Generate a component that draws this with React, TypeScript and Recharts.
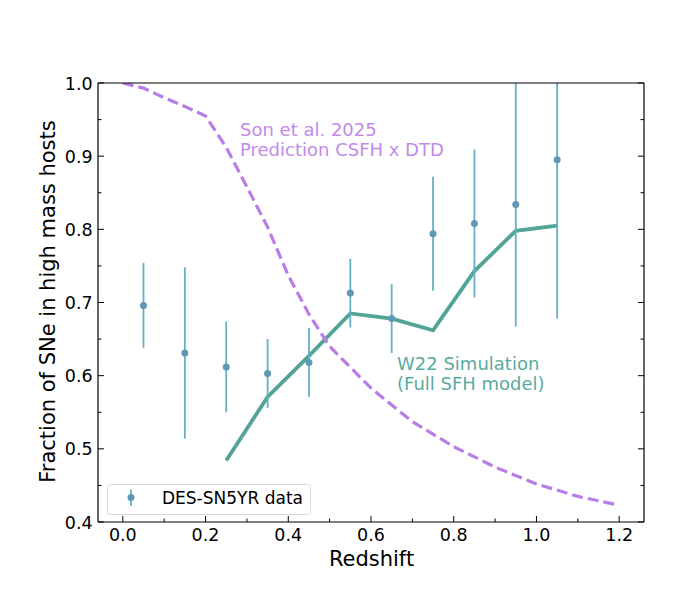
import React from 'react';
import { ComposedChart, Line, Scatter, ErrorBar, XAxis, YAxis, Legend } from 'recharts';

// DES-SN5YR binned data
const redshiftBins = [0.05, 0.15, 0.25, 0.35, 0.45, 0.55, 0.65, 0.75, 0.85, 0.95, 1.05];
const desFraction = [0.696, 0.631, 0.612, 0.603, 0.618, 0.713, 0.678, 0.794, 0.808, 0.834, 0.895];
const desError = [0.058, 0.117, 0.062, 0.047, 0.047, 0.047, 0.047, 0.078, 0.101, 0.167, 0.217];

// W22 simulation (full SFH model)
const w22Redshift = [0.25, 0.35, 0.45, 0.55, 0.65, 0.75, 0.85, 0.95, 1.05];
const w22Fraction = [0.484, 0.571, 0.627, 0.685, 0.678, 0.662, 0.743, 0.798, 0.805];

// Son et al. 2025 prediction
const sonRedshift = [0, 0.05, 0.1, 0.15, 0.2, 0.25, 0.3, 0.35, 0.4, 0.45, 0.5, 0.6, 0.7, 0.8, 0.9, 1.0, 1.1, 1.2];
const sonFraction = [1.0, 0.993, 0.98, 0.968, 0.955, 0.912, 0.858, 0.803, 0.737, 0.684, 0.64, 0.583, 0.537, 0.503, 0.475, 0.452, 0.435, 0.423];

const xTicks = [0, 0.1, 0.2, 0.3, 0.4, 0.5, 0.6, 0.7, 0.8, 0.9, 1.0, 1.1, 1.2];
const yTicks = [0.4, 0.45, 0.5, 0.55, 0.6, 0.65, 0.7, 0.75, 0.8, 0.85, 0.9, 0.95, 1.0];

const desData = redshiftBins.map((z, i) => ({ z, f: desFraction[i], e: desError[i] }));
const w22Data = w22Redshift.map((z, i) => ({ z, f: w22Fraction[i] }));
const sonData = sonRedshift.map((z, i) => ({ z, f: sonFraction[i] }));

const FONT = '"DejaVu Sans", sans-serif';
const PURPLE = '#b97de6';
const GREEN = '#52a596';
const BAR = '#66afc4';
const DOT = '#5f98b2';

const isMajorX = (v: number) => Math.abs(Math.round(v * 10) % 2) === 0;
const isMajorY = (v: number) => Math.abs(Math.round(v * 100) % 10) === 0;

const BottomTick = (props: any) => {
  const { x, y, payload } = props;
  const major = isMajorX(payload.value);
  return (
    <g>
      <line x1={x} x2={x} y1={y} y2={y - (major ? 6 : 3.5)} stroke="#000" strokeWidth={1} />
      {major && (
        <text x={x} y={y + 18.6} textAnchor="middle" fontFamily={FONT} fontSize={17.5} fill="#000">
          {payload.value.toFixed(1)}
        </text>
      )}
    </g>
  );
};

const TopTick = (props: any) => {
  const { x, y, payload } = props;
  const major = isMajorX(payload.value);
  return <line x1={x} x2={x} y1={y} y2={y + (major ? 6 : 3.5)} stroke="#000" strokeWidth={1} />;
};

const LeftTick = (props: any) => {
  const { x, y, payload } = props;
  const major = isMajorY(payload.value);
  return (
    <g>
      <line x1={x} x2={x + (major ? 6 : 3.5)} y1={y} y2={y} stroke="#000" strokeWidth={1} />
      {major && (
        <text x={x - 5.4} y={y + 6.5} textAnchor="end" fontFamily={FONT} fontSize={17.5} fill="#000">
          {payload.value.toFixed(1)}
        </text>
      )}
    </g>
  );
};

const RightTick = (props: any) => {
  const { x, y, payload } = props;
  const major = isMajorY(payload.value);
  return <line x1={x} x2={x - (major ? 6 : 3.5)} y1={y} y2={y} stroke="#000" strokeWidth={1} />;
};

const LegendBox = () => (
  <svg width={204} height={31} style={{ display: 'block' }}>
    <rect x={0.5} y={0.5} width={203} height={30} rx={3} fill="#fff" fillOpacity={0.8} stroke="#d8d8d8" />
    <line x1={24} x2={24} y1={5.5} y2={22} stroke={BAR} strokeWidth={1.8} />
    <circle cx={24} cy={13.5} r={3.5} fill={DOT} />
    <text x={55} y={20} fontFamily={FONT} fontSize={17} fill="#000">DES-SN5YR data</text>
  </svg>
);

export default function App() {
  return (
    <div style={{ position: 'absolute', left: 0, top: 0, width: 680, height: 591, background: '#fff' }}>
      {/* error bars past the frame are cut off at the axes, as matplotlib does */}
      <style>{'.recharts-errorBar { clip-path: url(#plot-area); }'}</style>
      <svg width={0} height={0} style={{ position: 'absolute' }}>
        <defs>
          <clipPath id="plot-area" clipPathUnits="userSpaceOnUse">
            <rect x={98} y={83} width={546} height={439} />
          </clipPath>
        </defs>
      </svg>
      <ComposedChart width={680} height={591} margin={{ top: 0, right: 0, bottom: 0, left: 0 }}>
        <XAxis
          dataKey="z"
          type="number"
          domain={[-0.06, 1.26]}
          ticks={xTicks}
          allowDataOverflow
          height={69}
          tickSize={0}
          tickMargin={0}
          tickLine={false}
          tick={<BottomTick />}
          axisLine={{ stroke: '#000', strokeWidth: 1.2 }}
          interval={0}
        />
        <XAxis
          xAxisId="top"
          orientation="top"
          type="number"
          domain={[-0.06, 1.26]}
          ticks={xTicks}
          allowDataOverflow
          height={83}
          tickSize={0}
          tickMargin={0}
          tickLine={false}
          tick={<TopTick />}
          axisLine={{ stroke: '#000', strokeWidth: 1.2 }}
          interval={0}
        />
        <YAxis
          type="number"
          domain={[0.4, 1.0]}
          ticks={yTicks}
          allowDataOverflow
          width={98}
          tickSize={0}
          tickMargin={0}
          tickLine={false}
          tick={<LeftTick />}
          axisLine={{ stroke: '#000', strokeWidth: 1.2 }}
          interval={0}
        />
        <YAxis
          yAxisId="right"
          orientation="right"
          type="number"
          domain={[0.4, 1.0]}
          ticks={yTicks}
          allowDataOverflow
          width={36}
          tickSize={0}
          tickMargin={0}
          tickLine={false}
          tick={<RightTick />}
          axisLine={{ stroke: '#000', strokeWidth: 1.2 }}
          interval={0}
        />
        <Line
          data={w22Data}
          dataKey="f"
          type="linear"
          stroke={GREEN}
          strokeWidth={3.8}
          dot={false}
          isAnimationActive={false}
        />
        <Line
          data={sonData}
          dataKey="f"
          type="linear"
          stroke={PURPLE}
          strokeWidth={3.2}
          strokeDasharray="11 5"
          dot={false}
          isAnimationActive={false}
        />
        <Scatter
          data={desData}
          dataKey="f"
          fill={DOT}
          isAnimationActive={false}
          shape={(p: any) => <circle cx={p.cx} cy={p.cy} r={3.5} fill={DOT} />}
        >
          <ErrorBar dataKey="e" direction="y" width={0} stroke={BAR} strokeWidth={1.8} isAnimationActive={false} />
        </Scatter>
        <Legend
          layout="vertical"
          align="center"
          verticalAlign="middle"
          content={<LegendBox />}
          wrapperStyle={{ position: 'absolute', left: 107, top: 484, width: 204, height: 31 }}
        />
      </ComposedChart>
      <svg
        width={680}
        height={591}
        style={{ position: 'absolute', left: 0, top: 0, pointerEvents: 'none' }}
      >
        <text x={371.5} y={566} textAnchor="middle" fontFamily={FONT} fontSize={21} fill="#000">
          Redshift
        </text>
        <text
          x={55}
          y={301.5}
          textAnchor="middle"
          fontFamily={FONT}
          fontSize={21}
          fill="#000"
          transform="rotate(-90 55 301.5)"
        >
          Fraction of SNe in high mass hosts
        </text>
        <text fontFamily={FONT} fontSize={18} fill="#c38ae9">
          <tspan x={240} y={135.5}>Son et al. 2025</tspan>
          <tspan x={240} y={155.5}>Prediction CSFH x DTD</tspan>
        </text>
        <text fontFamily={FONT} fontSize={18} fill="#5aab9e">
          <tspan x={397} y={370}>W22 Simulation</tspan>
          <tspan x={397} y={390}>(Full SFH model)</tspan>
        </text>
      </svg>
    </div>
  );
}
